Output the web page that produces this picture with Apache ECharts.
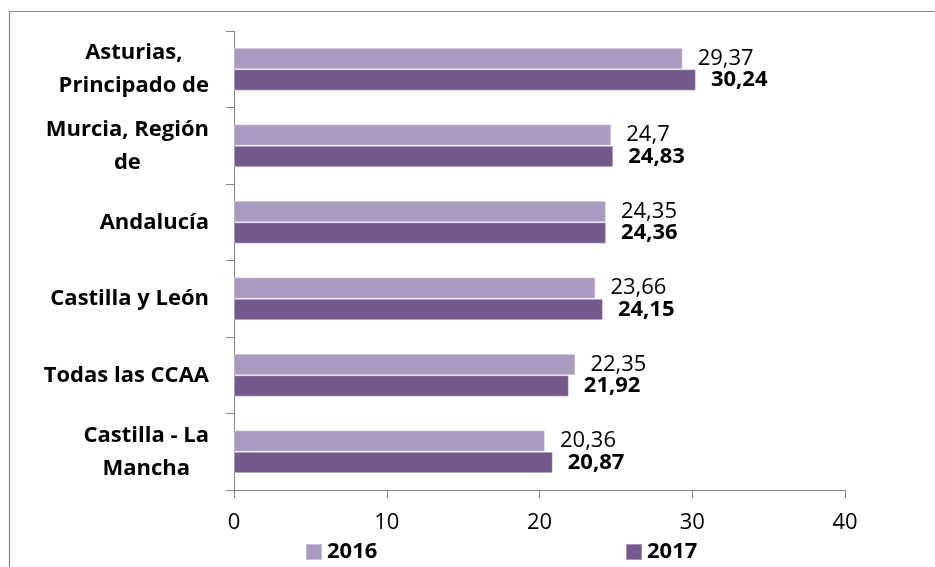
<!DOCTYPE html>
<html>
<head>
    <meta charset="utf-8"/>
    <style>
        html, body {
            height: 100%;
            margin: 0;
            padding: 0;
            background: #fff;
        }

        .container {
            width: 935px;
            height: 567px;
        }
    </style>
</head>

<body>
<div id="main" class="container"></div>
<script src="https://cdn.jsdelivr.net/npm/echarts@6/dist/echarts.min.js"></script>
<script type="text/javascript">
    // datos
    var categories = ['Asturias,\nPrincipado de', 'Murcia, Región\nde', 'Andalucía', 'Castilla y León', 'Todas las CCAA', 'Castilla - La\nMancha'];
    var values2016 = [29.37, 24.7, 24.35, 23.66, 22.35, 20.36];
    var values2017 = [30.24, 24.83, 24.36, 24.15, 21.92, 20.87];
    var xTicks = [0, 10, 20, 30, 40];

    var fontName = 'Open Sans';
    var axisColor = '#868686';

    function fmt(v) {
        return String(v).replace('.', ',');
    }

    var myChart = echarts.init(document.getElementById('main'));

    var option = {
        animation: false,
        backgroundColor: '#fff',
        textStyle: {fontFamily: fontName},
        graphic: [{
            type: 'rect',
            shape: {x: 9.5, y: 11.5, width: 2000, height: 2000},
            style: {fill: 'none', stroke: axisColor, lineWidth: 1.2},
            silent: true
        }],
        legend: [{
            data: ['2016'],
            left: 305,
            top: 541,
            padding: 0,
            icon: 'rect',
            itemWidth: 16,
            itemHeight: 16,
            selectedMode: false,
            textStyle: {fontFamily: fontName, fontSize: 22, fontWeight: 'bold', color: '#000'}
        }, {
            data: ['2017'],
            left: 625,
            top: 541,
            padding: 0,
            icon: 'rect',
            itemWidth: 16,
            itemHeight: 16,
            selectedMode: false,
            textStyle: {fontFamily: fontName, fontSize: 22, fontWeight: 'bold', color: '#000'}
        }],
        grid: {
            left: 234,
            right: 90,
            top: 31,
            bottom: 77,
            containLabel: false
        },
        xAxis: {
            type: 'value',
            min: xTicks[0],
            max: xTicks[xTicks.length - 1],
            interval: 10,
            axisLine: {show: true, lineStyle: {color: axisColor, width: 1}},
            axisTick: {show: true, length: 8, lineStyle: {color: axisColor}},
            splitLine: {show: false},
            axisLabel: {
                margin: 22,
                fontFamily: fontName,
                fontSize: 22,
                color: '#000'
            }
        },
        yAxis: {
            type: 'category',
            inverse: true,
            data: categories,
            axisLine: {show: true, lineStyle: {color: axisColor, width: 1}},
            axisTick: {show: true, length: 8, alignWithLabel: false, lineStyle: {color: axisColor}},
            splitLine: {show: false},
            axisLabel: {
                margin: 25,
                fontFamily: fontName,
                fontSize: 22,
                fontWeight: 'bold',
                lineHeight: 33,
                color: '#000',
                formatter: function (v) {
                    return v.split('\n').map(function (l) {
                        return '{c|' + l + '}';
                    }).join('\n');
                },
                rich: {
                    c: {
                        align: 'center',
                        fontFamily: fontName,
                        fontSize: 22,
                        fontWeight: 'bold',
                        lineHeight: 33,
                        color: '#000'
                    }
                }
            }
        },
        series: [{
            name: '2016',
            type: 'bar',
            data: values2016,
            barGap: '0%',
            barCategoryGap: '44%',
            itemStyle: {color: '#A99ABF', borderColor: 'rgba(255,255,255,0.35)', borderWidth: 1},
            label: {
                show: true,
                position: 'right',
                distance: 15,
                fontFamily: fontName,
                fontSize: 22,
                color: '#000',
                formatter: function (p) {
                    return fmt(p.value);
                }
            }
        }, {
            name: '2017',
            type: 'bar',
            data: values2017,
            barGap: '0%',
            barCategoryGap: '44%',
            itemStyle: {color: '#725A8F', borderColor: 'rgba(255,255,255,0.35)', borderWidth: 1},
            label: {
                show: true,
                position: 'right',
                distance: 15,
                fontFamily: fontName,
                fontSize: 22,
                fontWeight: 'bold',
                color: '#000',
                formatter: function (p) {
                    return fmt(p.value);
                }
            }
        }]
    };

    myChart.setOption(option);
</script>
</body>
</html>
